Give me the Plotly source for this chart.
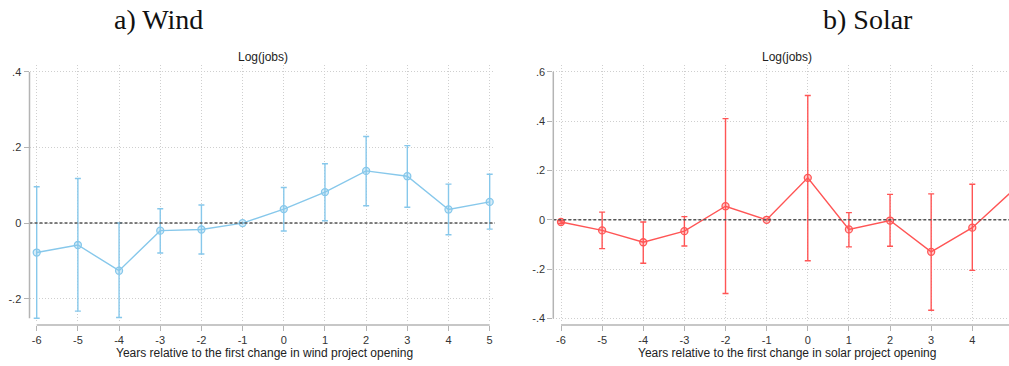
import plotly.graph_objects as go

# ---------------- data ----------------
years = [-6, -5, -4, -3, -2, -1, 0, 1, 2, 3, 4, 5]

wind_coef = [-0.078, -0.058, -0.126, -0.020, -0.017, 0.0, 0.037, 0.082, 0.138, 0.124, 0.036, 0.056]
wind_hi   = [0.096, 0.118, 0.000, 0.038, 0.048, None, 0.094, 0.157, 0.229, 0.205, 0.103, 0.129]
wind_lo   = [-0.252, -0.233, -0.250, -0.079, -0.082, None, -0.021, 0.006, 0.046, 0.042, -0.031, -0.016]

solar_coef = [-0.009, -0.043, -0.091, -0.046, 0.055, 0.0, 0.170, -0.039, -0.003, -0.130, -0.032, 0.121]
solar_hi   = [-0.004, 0.031, -0.009, 0.013, 0.410, None, 0.504, 0.029, 0.103, 0.105, 0.144, 0.210]
solar_lo   = [-0.015, -0.117, -0.176, -0.106, -0.299, None, -0.166, -0.110, -0.107, -0.367, -0.205, 0.030]

x_ticks = [-6, -5, -4, -3, -2, -1, 0, 1, 2, 3, 4, 5]
x_ticktext = ["-6", "-5", "-4", "-3", "-2", "-1", "0", "1", "2", "3", "4", "5"]
wind_yticks = [-0.2, 0, 0.2, 0.4]
wind_yticktext = ["-.2", "0", ".2", ".4"]
solar_yticks = [-0.4, -0.2, 0, 0.2, 0.4, 0.6]
solar_yticktext = ["-.4", "-.2", "0", ".2", ".4", ".6"]

panel_titles = ["a) Wind", "b) Solar"]
sub_title = "Log(jobs)"
x_titles = ["Years relative to the first change in wind project opening",
            "Years relative to the first change in solar project opening"]

# ---------------- layout helpers ----------------
W, H = 1009, 366
def px(x):  # horizontal pixel -> paper
    return x / W
def py(y):  # vertical pixel -> paper
    return 1 - y / H

WIND = "rgb(135,200,235)"
WIND_FILL = "rgba(135,200,235,0.35)"
SOLAR = "rgb(255,85,85)"
SOLAR_FILL = "rgba(255,85,85,0.3)"
AXIS_GRAY = "#b4b4b4"
GRID = "#cfcfcf"
TXT = "#333333"
FONT = "Liberation Sans, Arial, sans-serif"


def errs(coef, hi, lo):
    up = [None if h is None else h - c for c, h in zip(coef, hi)]
    dn = [None if l is None else c - l for c, l in zip(coef, lo)]
    return up, dn


fig = go.Figure()

wu, wd = errs(wind_coef, wind_hi, wind_lo)
fig.add_trace(go.Scatter(
    x=years, y=wind_coef, mode="lines+markers", xaxis="x", yaxis="y",
    line=dict(color=WIND, width=1.4),
    marker=dict(symbol="circle", size=7, color=WIND_FILL, line=dict(color=WIND, width=1.3)),
    error_y=dict(type="data", symmetric=False, array=wu, arrayminus=wd,
                 color=WIND, thickness=1.4, width=3),
    showlegend=False,
))

su, sd = errs(solar_coef, solar_hi, solar_lo)
fig.add_trace(go.Scatter(
    x=years, y=solar_coef, mode="lines+markers", xaxis="x2", yaxis="y2",
    line=dict(color=SOLAR, width=1.4),
    marker=dict(symbol="circle", size=7, color=SOLAR_FILL, line=dict(color=SOLAR, width=1.3)),
    error_y=dict(type="data", symmetric=False, array=su, arrayminus=sd,
                 color=SOLAR, thickness=1.4, width=3),
    showlegend=False,
))

# plot area geometry (pixels)
L_x0, L_x1 = 29.5, 495.0
R_x0, R_x1 = 553.3, 1009.0
TOP, BOT = 65.0, 324.0
XAX_Y = 326.7

# left scales: -6 at 36.7, 41.18 px/unit ; 0 at y=224.3, 380 px/unit
l_ppu_x, l_x_m6 = 41.18, 36.7
l_ppu_y, l_y0 = 380.0, 224.3
# right scales: -6 at 561, 41.13 px/unit ; 0 at y=221, 248 px/unit
r_ppu_x, r_x_m6 = 41.13, 561.0
r_ppu_y, r_y0 = 248.0, 221.0

xa_common = dict(
    tickmode="array", tickvals=x_ticks, ticktext=x_ticktext, ticks="outside", ticklen=5, tickwidth=1,
    tickcolor=AXIS_GRAY, showline=False, zeroline=False,
    showgrid=True, gridcolor=GRID, griddash="1px,2px", gridwidth=1,
    tickfont=dict(family=FONT, size=11, color=TXT),
    anchor="free", position=py(XAX_Y),
)
ya_common = dict(
    tickmode="array", ticks="outside", ticklen=5, tickwidth=1,
    tickcolor=AXIS_GRAY, showline=False, zeroline=False,
    showgrid=True, gridcolor=GRID, griddash="1px,2px", gridwidth=1,
    tickfont=dict(family=FONT, size=11, color=TXT),
)

fig.update_layout(
    width=W, height=H, margin=dict(l=0, r=0, t=0, b=0),
    paper_bgcolor="white", plot_bgcolor="white",
    xaxis=dict(domain=[px(L_x0), px(L_x1)],
               range=[-6 - (l_x_m6 - L_x0) / l_ppu_x, -6 + (L_x1 - l_x_m6) / l_ppu_x],
               **xa_common),
    yaxis=dict(domain=[py(BOT), py(TOP)],
               range=[(l_y0 - BOT) / l_ppu_y, (l_y0 - TOP) / l_ppu_y],
               tickvals=wind_yticks, ticktext=wind_yticktext, anchor="x", **ya_common),
    xaxis2=dict(domain=[px(R_x0), px(R_x1)],
                range=[-6 - (r_x_m6 - R_x0) / r_ppu_x, -6 + (R_x1 - r_x_m6) / r_ppu_x],
                **xa_common),
    yaxis2=dict(domain=[py(BOT), py(TOP)],
                range=[(r_y0 - BOT) / r_ppu_y, (r_y0 - TOP) / r_ppu_y],
                tickvals=solar_yticks, ticktext=solar_yticktext, anchor="x2", **ya_common),
)

shapes = []
# zero reference lines
for xr, yr in (("x domain", "y"), ("x2 domain", "y2")):
    shapes.append(dict(type="line", xref=xr, yref=yr, x0=0, x1=1, y0=0, y1=0,
                       line=dict(color="#555555", width=1.5, dash="3px,2px"), layer="above"))
# x axis lines (offset below the plot region, spanning the data range)
shapes.append(dict(type="line", xref="x", yref="paper", x0=-6, x1=5, y0=py(XAX_Y), y1=py(XAX_Y),
                   line=dict(color=AXIS_GRAY, width=1.5)))
shapes.append(dict(type="line", xref="x2", yref="paper", x0=-6, x1=5, y0=py(XAX_Y), y1=py(XAX_Y),
                   line=dict(color=AXIS_GRAY, width=1.5)))
# y axis lines
shapes.append(dict(type="line", xref="paper", yref="y", x0=px(L_x0), x1=px(L_x0), y0=-0.252, y1=0.4,
                   line=dict(color=AXIS_GRAY, width=1.5)))
shapes.append(dict(type="line", xref="paper", yref="y2", x0=px(R_x0), x1=px(R_x0), y0=-0.4, y1=0.6,
                   line=dict(color=AXIS_GRAY, width=1.5)))
fig.update_layout(shapes=shapes)

ann = []
ann.append(dict(text=panel_titles[0], x=px(158), y=py(20), xref="paper", yref="paper",
                showarrow=False, xanchor="center", yanchor="middle",
                font=dict(family="Liberation Serif, serif", size=28, color="#111111")))
ann.append(dict(text=panel_titles[1], x=px(868), y=py(20), xref="paper", yref="paper",
                showarrow=False, xanchor="center", yanchor="middle",
                font=dict(family="Liberation Serif, serif", size=28, color="#111111")))
for cx in (263.3, 787.0):
    ann.append(dict(text=sub_title, x=px(cx), y=py(57), xref="paper", yref="paper",
                    showarrow=False, xanchor="center", yanchor="middle",
                    font=dict(family=FONT, size=12, color="#222222")))
for cx, t in zip((264.0, 787.0), x_titles):
    ann.append(dict(text=t, x=px(cx), y=py(355), xref="paper", yref="paper",
                    showarrow=False, xanchor="center", yanchor="middle",
                    font=dict(family=FONT, size=12, color="#222222")))
fig.update_layout(annotations=ann)

fig.write_html("out.html")
